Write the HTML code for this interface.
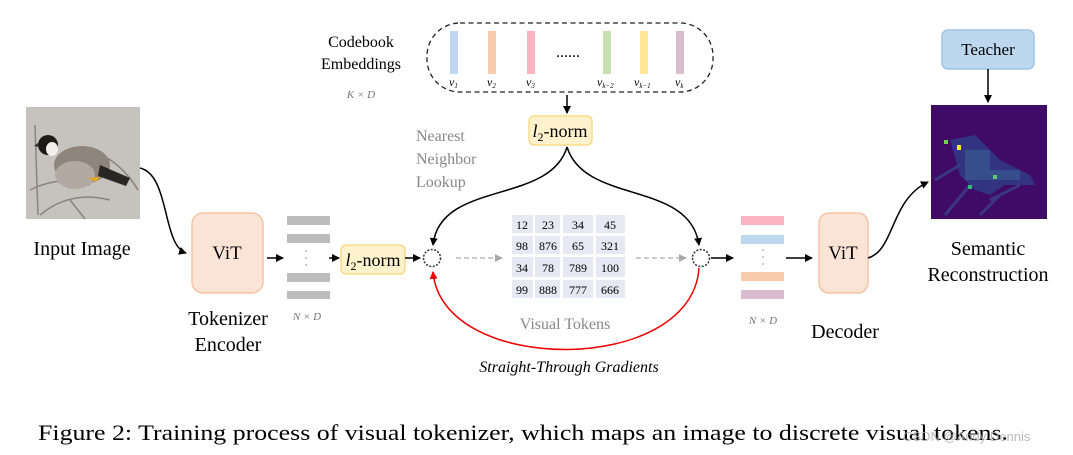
<!DOCTYPE html>
<html><head><meta charset="utf-8"><style>
html,body{margin:0;padding:0;background:#fff;width:1073px;height:455px;overflow:hidden}
svg{display:block}
.s{font-family:"Liberation Serif",serif}
</style></head><body>
<svg width="1073" height="455" viewBox="0 0 1073 455" xmlns="http://www.w3.org/2000/svg">
<defs>
<marker id="ah" markerWidth="8" markerHeight="8" refX="7" refY="4" orient="auto" markerUnits="userSpaceOnUse"><path d="M0,0 L8,4 L0,8 Z" fill="#000"/></marker>
<marker id="ahr" markerWidth="8" markerHeight="8" refX="7" refY="4" orient="auto" markerUnits="userSpaceOnUse"><path d="M0,0 L8,4 L0,8 Z" fill="#e00"/></marker>
<marker id="ahg" markerWidth="8" markerHeight="8" refX="7" refY="4" orient="auto" markerUnits="userSpaceOnUse"><path d="M0,0 L8,4 L0,8 Z" fill="#aaa"/></marker>
</defs>

<rect x="26" y="107" width="114" height="112" fill="#cfcac6"/>
<rect x="26" y="107" width="114" height="112" fill="#bdbab6" opacity="0.5"/>
<path d="M30,190 Q60,175 90,185 M40,215 Q70,190 110,200 M90,150 Q120,160 138,190 M35,125 L38,215 M70,200 L85,219" stroke="#8a8380" stroke-width="1.5" fill="none"/>
<ellipse cx="82" cy="165" rx="28" ry="19" fill="#8e857c"/>
<ellipse cx="75" cy="175" rx="20" ry="14" fill="#b2aaa2"/>
<path d="M100,165 L130,178 L126,186 L98,176 Z" fill="#2a2624"/>
<path d="M88,178 L100,177 L96,182 Z" fill="#e3a81c"/>
<circle cx="48" cy="145" r="10" fill="#1d1a1a"/>
<ellipse cx="52" cy="149" rx="6" ry="7" fill="#f1eeee"/>
<path d="M38,143 L34,146 L39,147 Z" fill="#333"/>

<text class="s" x="82" y="255" font-size="20" text-anchor="middle">Input Image</text>
<path d="M140,168 C170,175 162,245 186,253" stroke="#000" stroke-width="1.5" fill="none" marker-end="url(#ah)"/>

<rect x="192" y="213" width="71" height="80" rx="11" fill="#fbe4d6" stroke="#f5c4a6" stroke-width="1.5"/>
<text class="s" x="227" y="259" font-size="19" text-anchor="middle">ViT</text>
<text class="s" x="228" y="325" font-size="20" text-anchor="middle">Tokenizer</text>
<text class="s" x="228" y="351" font-size="20" text-anchor="middle">Encoder</text>
<line x1="267" y1="258" x2="283" y2="258" stroke="#000" stroke-width="1.5" marker-end="url(#ah)"/>
<g fill="#bcbcbc"><rect x="287" y="216" width="43" height="9"/><rect x="287" y="234" width="43" height="9"/><rect x="287" y="273" width="43" height="9"/><rect x="287" y="291" width="43" height="8"/></g>
<g fill="#bbb"><circle cx="306" cy="251" r="1"/><circle cx="306" cy="258" r="1"/><circle cx="306" cy="265" r="1"/></g>
<text class="s" x="307" y="320" font-size="11" font-style="italic" fill="#777" text-anchor="middle">N × D</text>
<line x1="329" y1="258" x2="339" y2="258" stroke="#000" stroke-width="1.5" marker-end="url(#ah)"/>
<rect x="341" y="245" width="64" height="29" rx="5" fill="#fff2cc" stroke="#f8dc8c" stroke-width="1.5"/>
<text class="s" x="373" y="266" font-size="18" text-anchor="middle"><tspan font-style="italic">l</tspan><tspan font-size="12" dy="4">2</tspan><tspan dy="-4">-norm</tspan></text>
<line x1="405" y1="258" x2="420" y2="258" stroke="#000" stroke-width="1.5" marker-end="url(#ah)"/>
<circle cx="432" cy="258" r="8.5" fill="none" stroke="#333" stroke-width="1.5" stroke-dasharray="2,1.5"/>

<rect x="427" y="23" width="286" height="69" rx="33" fill="none" stroke="#222" stroke-width="1.3" stroke-dasharray="5,3.5"/>
<g>
<rect x="450" y="31" width="8" height="43" fill="#bdd7ee"/>
<rect x="488" y="31" width="8" height="43" fill="#f8cbad"/>
<rect x="527" y="31" width="8" height="43" fill="#fbb4c0"/>
<rect x="603" y="31" width="8" height="43" fill="#c6e0b4"/>
<rect x="640" y="31" width="8" height="43" fill="#ffe699"/>
<rect x="676" y="31" width="8" height="43" fill="#d9bccf"/>
</g>
<text class="s" x="568" y="57" font-size="16" text-anchor="middle">......</text>
<g class="s" font-size="12" font-style="italic">
<text x="449" y="86">v<tspan font-size="7" dy="2">1</tspan></text>
<text x="487" y="86">v<tspan font-size="7" dy="2">2</tspan></text>
<text x="526" y="86">v<tspan font-size="7" dy="2">3</tspan></text>
<text x="597" y="86">v<tspan font-size="7" dy="2">k−2</tspan></text>
<text x="634" y="86">v<tspan font-size="7" dy="2">k−1</tspan></text>
<text x="675" y="86">v<tspan font-size="7" dy="2">k</tspan></text>
</g>
<text class="s" x="361" y="47" font-size="16" text-anchor="middle">Codebook</text>
<text class="s" x="361" y="69" font-size="16" text-anchor="middle">Embeddings</text>
<text class="s" x="361" y="98" font-size="11" font-style="italic" fill="#777" text-anchor="middle">K × D</text>
<line x1="567" y1="95" x2="567" y2="113" stroke="#000" stroke-width="1.5" marker-end="url(#ah)"/>
<rect x="529" y="116" width="63" height="29" rx="5" fill="#fff2cc" stroke="#f8dc8c" stroke-width="1.5"/>
<text class="s" x="560" y="137" font-size="18" text-anchor="middle"><tspan font-style="italic">l</tspan><tspan font-size="12" dy="4">2</tspan><tspan dy="-4">-norm</tspan></text>
<g class="s" font-size="16" fill="#888">
<text x="416" y="141">Nearest</text><text x="416" y="164">Neighbor</text><text x="416" y="187">Lookup</text>
</g>
<path d="M567,147 C550,205 440,180 433,245" stroke="#000" stroke-width="1.5" fill="none" marker-end="url(#ah)"/>
<path d="M567,147 C585,205 690,180 699,245" stroke="#000" stroke-width="1.5" fill="none" marker-end="url(#ah)"/>

<line x1="456" y1="258" x2="502" y2="258" stroke="#aaa" stroke-width="1.3" stroke-dasharray="5,3" marker-end="url(#ahg)"/>
<line x1="636" y1="258" x2="686" y2="258" stroke="#aaa" stroke-width="1.3" stroke-dasharray="5,3" marker-end="url(#ahg)"/>

<g fill="#e6e9f3">
<rect x="512" y="215" width="21" height="18"/><rect x="535" y="215" width="25" height="18"/><rect x="563" y="215" width="30" height="18"/><rect x="596" y="215" width="29" height="18"/>
<rect x="512" y="236" width="21" height="18"/><rect x="535" y="236" width="25" height="18"/><rect x="563" y="236" width="30" height="18"/><rect x="596" y="236" width="29" height="18"/>
<rect x="512" y="257" width="21" height="20"/><rect x="535" y="257" width="25" height="20"/><rect x="563" y="257" width="30" height="20"/><rect x="596" y="257" width="29" height="20"/>
<rect x="512" y="280" width="21" height="18"/><rect x="535" y="280" width="25" height="18"/><rect x="563" y="280" width="30" height="18"/><rect x="596" y="280" width="29" height="18"/>
</g>
<g class="s" font-size="12" text-anchor="middle">
<text x="522" y="229">12</text><text x="548" y="229">23</text><text x="578" y="229">34</text><text x="610" y="229">45</text>
<text x="522" y="250">98</text><text x="548" y="250">876</text><text x="578" y="250">65</text><text x="610" y="250">321</text>
<text x="522" y="272">34</text><text x="548" y="272">78</text><text x="578" y="272">789</text><text x="610" y="272">100</text>
<text x="522" y="294">99</text><text x="548" y="294">888</text><text x="578" y="294">777</text><text x="610" y="294">666</text>
</g>
<text class="s" x="565" y="329" font-size="16" fill="#888" text-anchor="middle">Visual Tokens</text>

<path d="M699,268 C692,376 442,376 433,272" stroke="#e00" stroke-width="1.5" fill="none" marker-end="url(#ahr)"/>
<text class="s" x="569" y="372" font-size="16" font-style="italic" text-anchor="middle">Straight-Through Gradients</text>

<circle cx="701" cy="258" r="8.5" fill="none" stroke="#333" stroke-width="1.5" stroke-dasharray="2,1.5"/>
<line x1="711" y1="258" x2="733" y2="258" stroke="#000" stroke-width="1.5" marker-end="url(#ah)"/>
<rect x="741" y="216" width="43" height="9" fill="#fbb4c0"/>
<rect x="741" y="235" width="43" height="9" fill="#bdd7ee"/>
<rect x="741" y="272" width="43" height="9" fill="#f8cbad"/>
<rect x="741" y="290" width="43" height="9" fill="#d9bccf"/>
<g fill="#bbb"><circle cx="763" cy="250" r="1"/><circle cx="763" cy="257" r="1"/><circle cx="763" cy="264" r="1"/></g>
<text class="s" x="763" y="324" font-size="11" font-style="italic" fill="#777" text-anchor="middle">N × D</text>
<line x1="786" y1="258" x2="812" y2="258" stroke="#000" stroke-width="1.5" marker-end="url(#ah)"/>

<rect x="819" y="213" width="49" height="80" rx="10" fill="#fbe4d6" stroke="#f5c4a6" stroke-width="1.5"/>
<text class="s" x="843" y="259" font-size="19" text-anchor="middle">ViT</text>
<text class="s" x="845" y="338" font-size="20" text-anchor="middle">Decoder</text>
<path d="M868,258 C895,250 890,200 928,182" stroke="#000" stroke-width="1.5" fill="none" marker-end="url(#ah)"/>

<rect x="942" y="30" width="92" height="39" rx="6" fill="#bdd7ee" stroke="#9dc3e6" stroke-width="1.5"/>
<text class="s" x="988" y="55" font-size="17" text-anchor="middle">Teacher</text>
<line x1="988" y1="69" x2="988" y2="102" stroke="#000" stroke-width="1.5" marker-end="url(#ah)"/>

<rect x="931" y="105" width="116" height="114" fill="#3f0b66"/>
<g fill="#2f3f88" opacity="0.8">
<path d="M950,140 L975,135 L1000,160 L1030,175 L1035,185 L1005,185 L990,195 L975,190 L960,175 Z"/>
</g>
<g fill="#3a5a92" opacity="0.7"><rect x="965" y="150" width="25" height="30"/><rect x="990" y="170" width="30" height="10"/></g>
<g stroke="#3a4a8a" stroke-width="3" fill="none" opacity="0.7"><path d="M935,180 L960,165 M945,215 L970,185 M990,200 L1020,185 M980,215 L1000,195"/></g>
<rect x="944" y="140" width="4" height="4" fill="#74d055"/>
<rect x="957" y="145" width="4" height="5" fill="#fde725"/>
<rect x="993" y="175" width="4" height="4" fill="#5ec962"/>
<rect x="968" y="185" width="4" height="4" fill="#35b779"/>
<text class="s" x="988" y="255" font-size="20" text-anchor="middle">Semantic</text>
<text class="s" x="988" y="281" font-size="20" text-anchor="middle">Reconstruction</text>

<text class="s" x="38" y="440" font-size="22.5" textLength="970" lengthAdjust="spacingAndGlyphs">Figure 2: Training process of visual tokenizer, which maps an image to discrete visual tokens.</text>
<text x="903" y="441" font-family="Liberation Sans, sans-serif" font-size="13" fill="#aaa" opacity="0.8">CSDN @Andy Dennis</text>
</svg>
</body></html>
